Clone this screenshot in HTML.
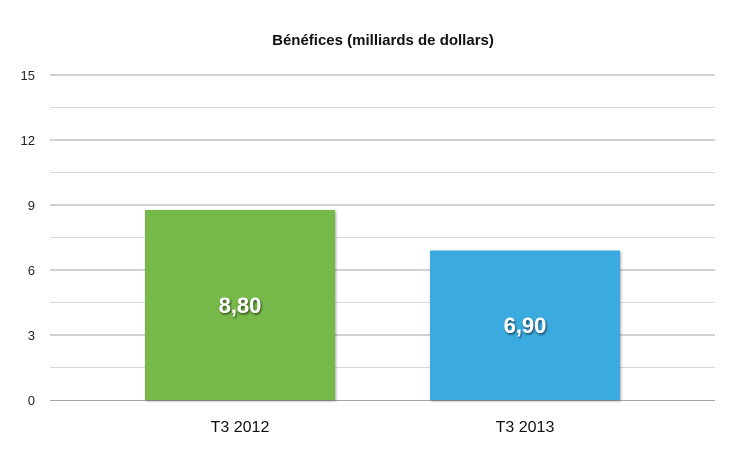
<!DOCTYPE html>
<html><head><style>
body{margin:0;background:#fff;}
svg text{font-family:"Liberation Sans",sans-serif;}
</style></head><body>
<svg width="735" height="453" xmlns="http://www.w3.org/2000/svg">
<defs><filter id="s" x="-10%" y="-10%" width="120%" height="120%"><feDropShadow dx="1" dy="1" stdDeviation="1.2" flood-color="#000" flood-opacity="0.35"/></filter>
<filter id="t"><feDropShadow dx="1" dy="1.5" stdDeviation="1" flood-color="#000" flood-opacity="0.6"/></filter></defs>
<text x="383" y="45" text-anchor="middle" font-size="15" font-weight="bold" fill="#111">Bénéfices (milliards de dollars)</text>
<g stroke="#d9d9d9" stroke-width="1">
<line x1="50" x2="715" y1="107.5" y2="107.5"/><line x1="50" x2="715" y1="172.5" y2="172.5"/><line x1="50" x2="715" y1="237.5" y2="237.5"/><line x1="50" x2="715" y1="302.5" y2="302.5"/><line x1="50" x2="715" y1="367.5" y2="367.5"/>
</g>
<g stroke="#a6a6a6" stroke-width="1">
<line x1="50" x2="715" y1="75" y2="75"/><line x1="50" x2="715" y1="140" y2="140"/><line x1="50" x2="715" y1="205" y2="205"/><line x1="50" x2="715" y1="270" y2="270"/><line x1="50" x2="715" y1="335" y2="335"/><line x1="50" x2="715" y1="400.5" y2="400.5"/>
</g>
<g font-size="13" fill="#222" text-anchor="end">
<text x="35" y="80">15</text><text x="35" y="145">12</text><text x="35" y="210">9</text><text x="35" y="275">6</text><text x="35" y="340">3</text><text x="35" y="405">0</text>
</g>
<rect x="145" y="210" width="190" height="190" fill="#76b84a" filter="url(#s)"/>
<rect x="430" y="250.5" width="190" height="149.5" fill="#3aaadf" filter="url(#s)"/>
<g font-size="22" font-weight="bold" fill="#fff" text-anchor="middle" filter="url(#t)">
<text x="240" y="313">8,80</text><text x="525" y="333">6,90</text>
</g>
<g font-size="16" fill="#111" text-anchor="middle">
<text x="240" y="432">T3 2012</text><text x="525" y="432">T3 2013</text>
</g>
</svg>
</body></html>
